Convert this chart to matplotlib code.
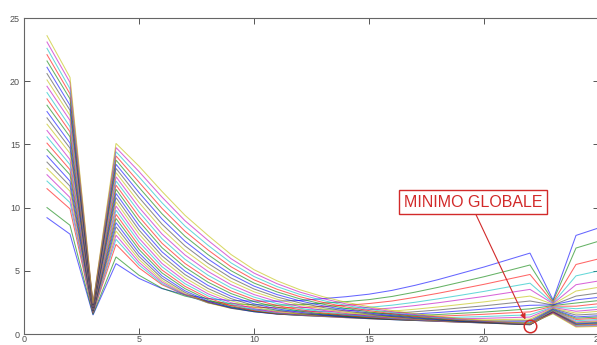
import matplotlib
matplotlib.use("Agg")
import matplotlib.pyplot as plt

# ---- data ----
x_values = list(range(1, 26))

series = [
    [9.2, 7.9, 1.5, 5.57, 4.4, 3.59, 3.11, 2.8, 2.65, 2.6, 2.6, 2.65, 2.8, 2.95, 3.15, 3.45, 3.85, 4.3, 4.8, 5.3, 5.85, 6.4, 2.7, 7.8, 8.4],
    [10.0, 8.6, 1.55, 6.1, 4.65, 3.62, 3.0, 2.6, 2.4, 2.31, 2.28, 2.32, 2.44, 2.56, 2.72, 2.97, 3.31, 3.69, 4.11, 4.53, 4.99, 5.46, 2.6, 6.8, 7.35],
    [11.5, 9.9, 1.65, 7.09, 5.23, 3.9, 3.09, 2.55, 2.27, 2.12, 2.07, 2.08, 2.18, 2.27, 2.41, 2.61, 2.9, 3.22, 3.57, 3.93, 4.32, 4.71, 2.5, 5.5, 5.95],
    [12.1, 10.4, 1.7, 7.49, 5.46, 3.99, 3.08, 2.47, 2.14, 1.96, 1.88, 1.87, 1.94, 2.01, 2.11, 2.28, 2.51, 2.78, 3.07, 3.37, 3.7, 4.02, 2.45, 4.6, 5.0],
    [12.6, 10.8, 1.72, 7.82, 5.67, 4.11, 3.13, 2.47, 2.09, 1.88, 1.77, 1.75, 1.79, 1.84, 1.92, 2.06, 2.25, 2.47, 2.72, 2.97, 3.25, 3.53, 2.4, 3.9, 4.2],
    [13.1, 11.3, 1.75, 8.15, 5.9, 4.24, 3.19, 2.46, 2.03, 1.79, 1.65, 1.61, 1.63, 1.65, 1.7, 1.81, 1.96, 2.14, 2.34, 2.54, 2.77, 3.0, 2.35, 3.4, 3.7],
    [13.6, 11.7, 1.78, 8.48, 6.14, 4.41, 3.29, 2.51, 2.04, 1.76, 1.6, 1.54, 1.53, 1.53, 1.57, 1.64, 1.76, 1.9, 2.07, 2.23, 2.42, 2.61, 2.3, 3.0, 3.25],
    [14.1, 12.1, 1.82, 8.81, 6.4, 4.6, 3.42, 2.6, 2.08, 1.76, 1.57, 1.49, 1.46, 1.44, 1.45, 1.5, 1.59, 1.7, 1.83, 1.97, 2.12, 2.27, 2.3, 2.7, 2.9],
    [14.6, 12.6, 1.85, 9.14, 6.69, 4.83, 3.59, 2.71, 2.15, 1.8, 1.58, 1.47, 1.41, 1.38, 1.37, 1.39, 1.46, 1.54, 1.64, 1.74, 1.86, 1.99, 2.25, 2.45, 2.65],
    [15.1, 13.0, 1.88, 9.47, 6.97, 5.06, 3.77, 2.85, 2.24, 1.85, 1.6, 1.47, 1.39, 1.34, 1.31, 1.31, 1.35, 1.41, 1.48, 1.56, 1.66, 1.75, 2.2, 2.2, 2.4],
    [15.6, 13.4, 1.91, 9.8, 7.28, 5.32, 3.98, 3.01, 2.35, 1.92, 1.64, 1.48, 1.38, 1.3, 1.25, 1.24, 1.25, 1.28, 1.33, 1.38, 1.45, 1.52, 2.15, 2.0, 2.15],
    [16.1, 13.8, 1.95, 10.13, 7.58, 5.58, 4.2, 3.18, 2.48, 2.01, 1.7, 1.52, 1.39, 1.29, 1.22, 1.19, 1.18, 1.19, 1.21, 1.24, 1.29, 1.34, 2.1, 1.8, 1.95],
    [16.6, 14.3, 1.98, 10.46, 7.91, 5.88, 4.44, 3.38, 2.63, 2.12, 1.78, 1.57, 1.42, 1.3, 1.21, 1.15, 1.12, 1.11, 1.11, 1.12, 1.15, 1.18, 2.05, 1.65, 1.8],
    [17.1, 14.7, 2.01, 10.79, 8.23, 6.18, 4.7, 3.6, 2.8, 2.25, 1.88, 1.63, 1.46, 1.32, 1.21, 1.14, 1.09, 1.06, 1.04, 1.04, 1.04, 1.06, 2.0, 1.5, 1.6],
    [17.6, 15.1, 2.04, 11.12, 8.57, 6.5, 4.98, 3.84, 2.99, 2.39, 1.99, 1.72, 1.52, 1.35, 1.23, 1.14, 1.07, 1.03, 0.99, 0.97, 0.96, 0.96, 1.95, 1.35, 1.45],
    [18.1, 15.6, 2.08, 11.45, 8.93, 6.83, 5.28, 4.1, 3.2, 2.56, 2.12, 1.81, 1.59, 1.4, 1.26, 1.15, 1.07, 1.01, 0.95, 0.92, 0.9, 0.88, 1.9, 1.25, 1.35],
    [18.6, 16.0, 2.11, 11.78, 9.28, 7.18, 5.58, 4.36, 3.41, 2.73, 2.25, 1.92, 1.67, 1.47, 1.31, 1.18, 1.08, 1.0, 0.93, 0.89, 0.85, 0.82, 1.85, 1.15, 1.25],
    [19.1, 16.4, 2.14, 12.11, 9.66, 7.54, 5.91, 4.65, 3.65, 2.92, 2.41, 2.04, 1.76, 1.54, 1.36, 1.22, 1.1, 1.01, 0.93, 0.87, 0.82, 0.78, 1.85, 1.05, 1.15],
    [19.6, 16.9, 2.17, 12.44, 10.02, 7.91, 6.25, 4.95, 3.9, 3.12, 2.57, 2.17, 1.87, 1.62, 1.42, 1.27, 1.14, 1.03, 0.94, 0.87, 0.81, 0.75, 1.8, 0.95, 1.05],
    [20.1, 17.3, 2.21, 12.77, 10.41, 8.3, 6.6, 5.27, 4.16, 3.34, 2.75, 2.31, 1.98, 1.71, 1.5, 1.32, 1.18, 1.06, 0.95, 0.87, 0.8, 0.74, 1.8, 0.9, 1.0],
    [20.6, 17.7, 2.24, 13.1, 10.8, 8.69, 6.97, 5.59, 4.43, 3.56, 2.93, 2.46, 2.1, 1.81, 1.58, 1.38, 1.22, 1.09, 0.97, 0.88, 0.8, 0.73, 1.75, 0.85, 0.92],
    [21.1, 18.1, 2.27, 13.43, 11.19, 9.1, 7.34, 5.93, 4.72, 3.79, 3.12, 2.62, 2.23, 1.91, 1.66, 1.45, 1.28, 1.14, 1.0, 0.91, 0.82, 0.74, 1.75, 0.8, 0.87],
    [21.6, 18.6, 2.3, 13.76, 11.6, 9.51, 7.73, 6.28, 5.01, 4.03, 3.33, 2.78, 2.36, 2.02, 1.75, 1.53, 1.34, 1.18, 1.04, 0.93, 0.83, 0.75, 1.7, 0.75, 0.82],
    [22.1, 19.0, 2.34, 14.09, 12.01, 9.94, 8.13, 6.65, 5.32, 4.29, 3.54, 2.95, 2.5, 2.14, 1.85, 1.61, 1.4, 1.24, 1.08, 0.96, 0.86, 0.76, 1.7, 0.7, 0.76],
    [22.6, 19.4, 2.37, 14.42, 12.43, 10.38, 8.54, 7.02, 5.63, 4.55, 3.75, 3.13, 2.65, 2.26, 1.95, 1.69, 1.47, 1.29, 1.12, 1.0, 0.88, 0.78, 1.65, 0.65, 0.7],
    [23.1, 19.9, 2.4, 14.75, 12.85, 10.83, 8.96, 7.41, 5.96, 4.82, 3.98, 3.31, 2.8, 2.38, 2.05, 1.77, 1.54, 1.35, 1.17, 1.03, 0.91, 0.8, 1.65, 0.6, 0.65],
    [23.6, 20.3, 2.43, 15.08, 13.28, 11.28, 9.39, 7.8, 6.29, 5.09, 4.21, 3.5, 2.95, 2.51, 2.16, 1.86, 1.61, 1.41, 1.22, 1.07, 0.94, 0.82, 1.6, 0.55, 0.6],
]

x_ticks = [0, 5, 10, 15, 20, 25]
y_ticks = [0, 5, 10, 15, 20, 25]
x_limits = (0, 25)
y_limits = (0, 25)

annotation_text = "MINIMO GLOBALE"
minimum_point = (22, 0.66)
label_anchor = (19.54, 10.44)
arrow_start = (19.65, 9.45)
arrow_end = (21.8, 1.15)

# MATLAB classic colour order
line_colors = [(0, 0, 1), (0, 0.5, 0), (1, 0, 0), (0, 0.75, 0.75),
               (0.75, 0, 0.75), (0.75, 0.75, 0), (0.25, 0.25, 0.25)]

# ---- figure ----
fig = plt.figure(figsize=(5.97, 3.45), dpi=100)
fig.patch.set_facecolor("white")
ax = fig.add_axes([24 / 597, 11 / 345, 575 / 597, 316 / 345])

for i, ys in enumerate(series):
    ax.plot(x_values, ys, color=line_colors[i % len(line_colors)],
            lw=0.75, alpha=0.6, solid_joinstyle="miter")

ax.set_xlim(*x_limits)
ax.set_ylim(*y_limits)
ax.set_xticks(x_ticks)
ax.set_yticks(y_ticks)
ax.tick_params(direction="in", length=4, width=0.7, colors="#555555",
               labelsize=6.5, top=True, right=True, labelcolor="#505050")
ax.tick_params(axis="x", pad=0.6)
ax.tick_params(axis="y", pad=3)
for lab in ax.get_xticklabels() + ax.get_yticklabels():
    lab.set_family("Liberation Sans")
for sp in ax.spines.values():
    sp.set_color("#666666")
    sp.set_linewidth(0.8)

red = "#d22a2a"
ax.plot(*minimum_point, "o", mfc="none", mec=red, ms=9, mew=1.1, zorder=5)
ax.annotate("", xy=arrow_end, xytext=arrow_start,
            arrowprops=dict(arrowstyle="-|>", color=red, lw=0.8,
                            mutation_scale=8, shrinkA=0, shrinkB=0),
            zorder=5)
ax.text(*label_anchor, annotation_text, ha="center", va="center",
        color=red, fontsize=11.5, family="Liberation Sans",
        bbox=dict(boxstyle="square,pad=0.3", fc="white", ec=red, lw=1.0),
        zorder=6)

fig.savefig("out.png", dpi=100, facecolor="white")
